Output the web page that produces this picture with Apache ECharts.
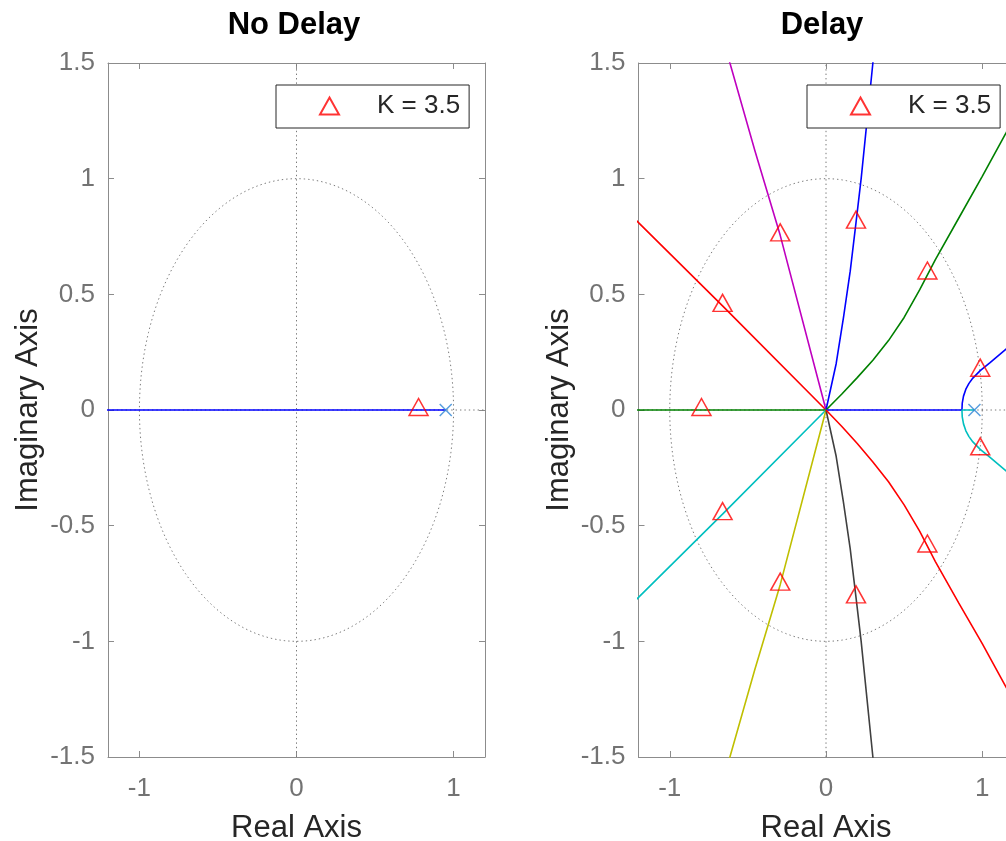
<!DOCTYPE html>
<html>
<head>
<meta charset="utf-8">
<script src="https://cdn.jsdelivr.net/npm/echarts@6/dist/echarts.min.js"></script>
<style>
  html, body { margin: 0; padding: 0; background: #fff; overflow: hidden; }
  /* a bit wider than the window: the right plot runs past the edge */
  #chart { width: 1020px; height: 841px; }
</style>
</head>
<body>
<div id="chart"></div>
<script>
  // ---- data ----
  var titles = ['No Delay', 'Delay'];
  var kLabel = 'K = 3.5';
  var xTicks = [-1, 0, 1];

  // no delay: one branch on the real axis
  var noDelayBranch = [[0.95, 0], [-1.3, 0]];
  var noDelayPoles = [[0.95, 0]];
  var noDelayK = [[0.777, 0]];

  // delay: branches leaving the origin / the pole
  var redUpper = [[0, 0], [-0.662, 0.45], [-1.2, 0.81], [-1.3, 0.875]];
  var magentaUpper = [[0, 0], [-0.293, 0.755], [-0.455, 1.121], [-0.615, 1.5], [-0.655, 1.6]];
  var blueUpper = [[0, 0], [0.065, 0.2], [0.112, 0.4], [0.155, 0.6], [0.192, 0.81], [0.225, 1.0], [0.255, 1.2], [0.30, 1.5], [0.316, 1.62]];
  var greenUpper = [[0, 0], [0.1, 0.068], [0.2, 0.14], [0.3, 0.215], [0.4, 0.30], [0.5, 0.40], [0.6, 0.52], [0.7, 0.65], [0.85, 0.83], [1.0, 1.01], [1.154, 1.2], [1.25, 1.32]];
  var blueRight = [[0, 0], [0.87, 0], [0.872, 0.03], [0.88, 0.06], [0.895, 0.09], [0.915, 0.115], [0.94, 0.138], [0.965, 0.155], [0.987, 0.17], [1.05, 0.205], [1.154, 0.264], [1.25, 0.31]];
  var cyanRight = [[0.95, 0], [0.87, 0], [0.872, -0.03], [0.88, -0.06], [0.895, -0.09], [0.915, -0.115], [0.94, -0.138], [0.965, -0.155], [0.987, -0.17], [1.05, -0.205], [1.154, -0.264], [1.25, -0.31]];
  var greenLeft = [[0, 0], [-1.3, 0]];
  var cyanLower = [[0, 0], [-0.662, -0.45], [-1.2, -0.81], [-1.3, -0.875]];
  var yellowLower = [[0, 0], [-0.293, -0.755], [-0.455, -1.121], [-0.615, -1.5], [-0.655, -1.6]];
  var blackLower = [[0, 0], [0.065, -0.2], [0.112, -0.4], [0.155, -0.6], [0.192, -0.81], [0.225, -1.0], [0.255, -1.2], [0.30, -1.5], [0.316, -1.62]];
  var redLower = [[0, 0], [0.1, -0.07], [0.2, -0.145], [0.3, -0.225], [0.4, -0.31], [0.5, -0.41], [0.6, -0.525], [0.7, -0.655], [0.85, -0.835], [1.0, -1.01], [1.154, -1.2], [1.25, -1.32]];
  var delayPoles = [[0.95, 0]];
  var delayK = [
    [-0.662, 0.45], [-0.293, 0.755], [0.192, 0.81], [0.649, 0.59], [0.987, 0.17],
    [0.987, -0.17], [0.649, -0.59], [0.192, -0.81], [-0.293, -0.755], [-0.662, -0.45], [-0.797, 0]
  ];

  // unit circle guide (|z| = 1)
  var unitCircle = [];
  for (var i = 0; i <= 240; i++) {
    var a = i / 240 * Math.PI * 2;
    unitCircle.push([Math.cos(a), Math.sin(a)]);
  }

  var FONT = '"Liberation Sans", Arial, sans-serif';
  var AXIS_GRAY = '#8c8c8c';

  function xAxes(grid) {
    var base = {
      gridIndex: grid, type: 'value', min: -1.2, max: 1.2,
      axisLine: { onZero: false, lineStyle: { color: AXIS_GRAY, width: 1 } },
      axisTick: { inside: true, length: 6, customValues: xTicks, lineStyle: { color: AXIS_GRAY } },
      splitLine: { show: false }
    };
    return [
      Object.assign({}, base, {
        position: 'bottom',
        axisLabel: { customValues: xTicks, margin: 19, fontSize: 26, color: '#737373', fontFamily: FONT },
        name: 'Real Axis', nameLocation: 'middle', nameGap: 56,
        nameTextStyle: { fontSize: 31, color: '#262626', fontFamily: FONT }
      }),
      Object.assign({}, base, { position: 'top', axisLabel: { show: false } })
    ];
  }

  function yAxes(grid) {
    var base = {
      gridIndex: grid, type: 'value', min: -1.5, max: 1.5, interval: 0.5,
      axisLine: { onZero: false, lineStyle: { color: AXIS_GRAY, width: 1 } },
      axisTick: { inside: true, length: 6, lineStyle: { color: AXIS_GRAY } },
      splitLine: { show: false }
    };
    return [
      Object.assign({}, base, {
        position: 'left',
        axisLabel: { margin: 13, fontSize: 26, color: '#737373', fontFamily: FONT, padding: [4, 0, 0, 0] },
        name: 'Imaginary Axis', nameLocation: 'middle', nameGap: 64,
        nameTextStyle: { fontSize: 31, color: '#262626', fontFamily: FONT }
      }),
      Object.assign({}, base, { position: 'right', axisLabel: { show: false } })
    ];
  }

  function line(ax, data, color, dotted) {
    return {
      type: 'line', xAxisIndex: ax, yAxisIndex: ax, data: data,
      symbol: 'none', silent: true, clip: true, z: dotted ? 1 : 2,
      lineStyle: dotted ? { color: '#7a7a7a', width: 1, type: [1.4, 3] } : { color: color, width: 1.6 }
    };
  }

  function guides(ax) {
    return [
      line(ax, unitCircle, null, true),
      line(ax, [[-1.2, 0], [1.2, 0]], null, true),
      line(ax, [[0, -1.5], [0, 1.5]], null, true)
    ];
  }

  function kMarks(ax, data) {
    return {
      type: 'scatter', name: kLabel, xAxisIndex: ax, yAxisIndex: ax, data: data,
      symbol: 'triangle', symbolSize: [19, 17], symbolOffset: [0, -3], z: 5,
      itemStyle: { color: 'rgba(0,0,0,0)', borderColor: '#ff0000', borderWidth: 1.5 }
    };
  }

  function poleMarks(ax, data) {
    return {
      type: 'scatter', xAxisIndex: ax, yAxisIndex: ax, data: data,
      symbol: 'path://M0,0L10,10M10,0L0,10', symbolSize: 12, z: 6, silent: true,
      itemStyle: { color: 'rgba(0,0,0,0)', borderColor: '#2f86d6', borderWidth: 1.5 }
    };
  }

  function legendBox(left) {
    return {
      left: left, top: 85, data: [kLabel], orient: 'horizontal',
      backgroundColor: '#fff', borderColor: '#262626', borderWidth: 1, borderRadius: 0,
      padding: [8, 9, 9, 43], itemWidth: 19, itemHeight: 17, itemGap: 0,
      selectedMode: false,
      textStyle: { fontSize: 26, color: '#262626', fontFamily: FONT, padding: [0, 0, 0, 33] }
    };
  }

  var titleStyle = { fontSize: 31, fontWeight: 'bold', color: '#000', fontFamily: FONT };

  var option = {
    animation: false,
    backgroundColor: '#fff',
    title: [
      { text: titles[0], left: 294, top: 10, padding: 0, textAlign: 'center', textStyle: titleStyle },
      { text: titles[1], left: 822, top: 10, padding: 0, textAlign: 'center', textStyle: titleStyle }
    ],
    legend: [legendBox(276), legendBox(807)],
    grid: [
      { left: 108, top: 63, width: 377, height: 694, outerBoundsMode: 'none' },
      { left: 638.5, top: 63, width: 375, height: 694, outerBoundsMode: 'none' }
    ],
    xAxis: xAxes(0).concat(xAxes(1)),
    yAxis: yAxes(0).concat(yAxes(1)),
    series: [].concat(
      guides(0),
      [line(0, noDelayBranch, '#0000ff'), kMarks(0, noDelayK), poleMarks(0, noDelayPoles)],
      guides(2),
      [
        line(2, redUpper, '#ff0000'),
        line(2, magentaUpper, '#bf00bf'),
        line(2, blueUpper, '#0000ff'),
        line(2, greenUpper, '#008000'),
        line(2, blueRight, '#0000ff'),
        line(2, cyanRight, '#00bfbf'),
        line(2, greenLeft, '#008000'),
        line(2, cyanLower, '#00bfbf'),
        line(2, yellowLower, '#bfbf00'),
        line(2, blackLower, '#404040'),
        line(2, redLower, '#ff0000'),
        kMarks(2, delayK),
        poleMarks(2, delayPoles)
      ]
    )
  };

  var myChart = echarts.init(document.getElementById('chart'));
  myChart.setOption(option);
</script>
</body>
</html>
